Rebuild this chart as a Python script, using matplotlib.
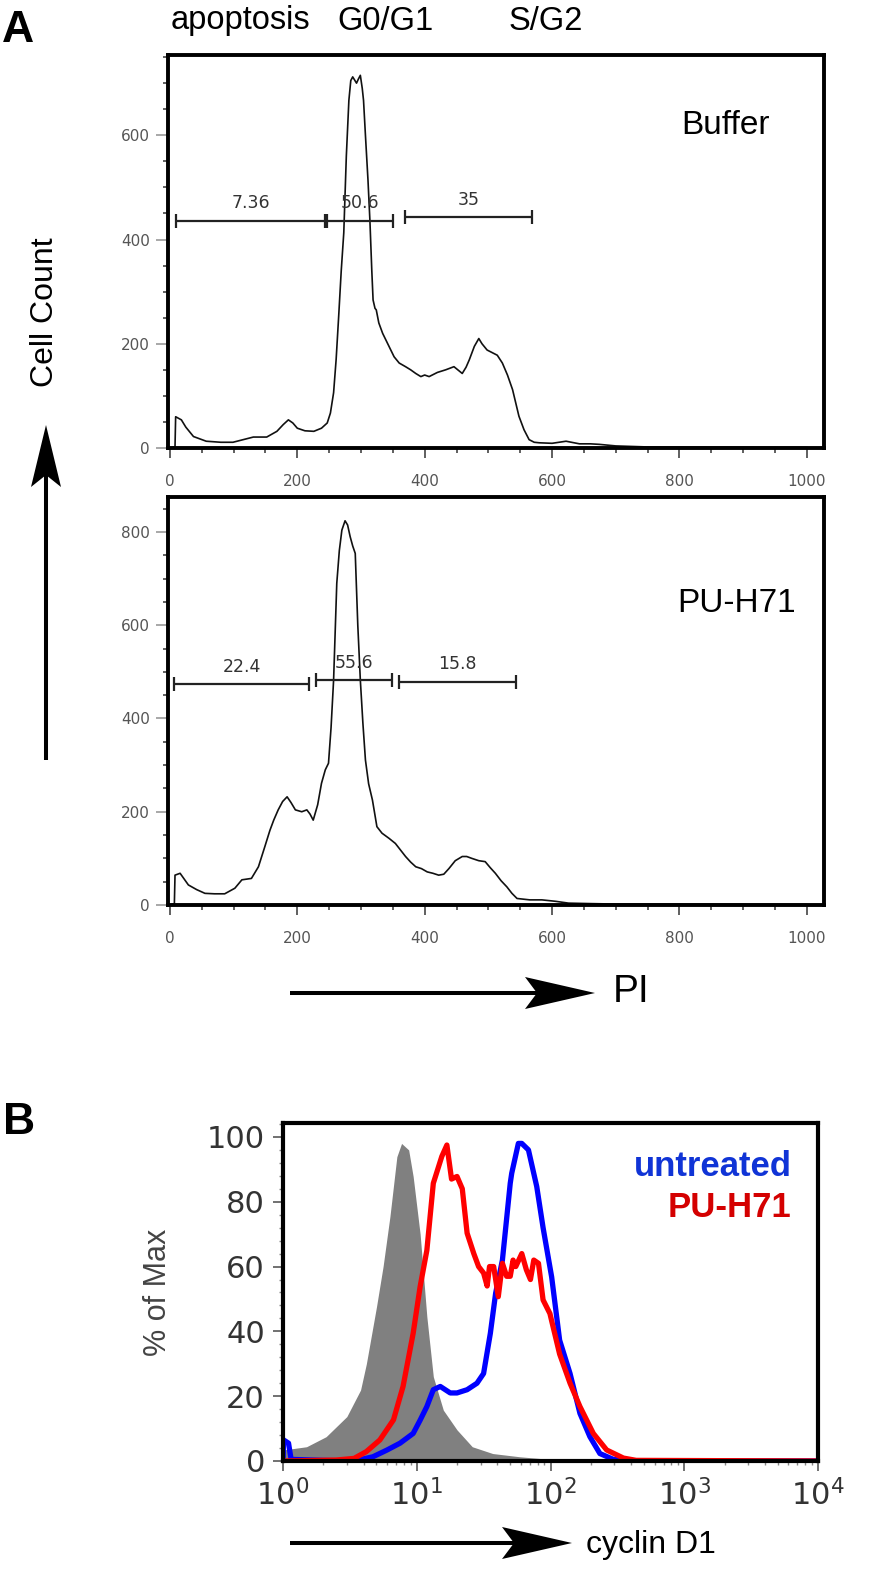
import matplotlib
matplotlib.use('Agg')
import matplotlib.pyplot as plt
from matplotlib.patches import Polygon
from matplotlib.lines import Line2D
from matplotlib.ticker import MultipleLocator, LogLocator, NullFormatter, FixedLocator

plt.rcParams['mathtext.default'] = 'regular'

W, H = 880, 1571
NARROW = ['Liberation Sans Narrow', 'Liberation Sans', 'DejaVu Sans']
ARIAL = ['Liberation Sans', 'DejaVu Sans']

# ---------------- data: panel A (PI histograms) ----------------
buffer_x = [0, 8, 9, 12, 18, 25, 37, 57, 80, 99, 115, 131, 152, 168, 178, 186, 193, 200, 212, 226,
            238, 247, 252, 257, 261, 265, 269, 273, 277, 281, 284, 287, 290, 293, 296, 299, 302, 304,
            307, 311, 314, 317, 319, 322, 324, 328, 334, 344, 352, 360, 370, 378, 386, 394, 400, 407,
            420, 433, 446, 452, 459, 465, 470, 478, 485, 490, 498, 506, 514, 522, 530, 538, 548, 556,
            564, 572, 580, 600, 622, 643, 660, 674, 700, 750, 1000]
buffer_y = [0, 2, 60, 58, 54, 40, 22, 13, 11, 11, 16, 21, 21, 32, 45, 54, 48, 38, 33, 32,
            38, 48, 67, 106, 170, 253, 340, 413, 560, 667, 705, 712, 706, 700, 708, 715, 690, 667,
            600, 514, 437, 340, 284, 268, 265, 240, 220, 195, 175, 163, 156, 150, 143, 137, 140, 137,
            145, 150, 156, 150, 143, 155, 169, 195, 210, 200, 188, 183, 178, 163, 140, 112, 61, 35,
            16, 11, 10, 9, 13, 8, 8, 7, 4, 2, 1]

puh_x = [0, 7, 8, 16, 29, 42, 55, 70, 86, 102, 113, 128, 139, 149, 157, 163, 170, 177, 184, 190,
         197, 207, 215, 220, 225, 232, 238, 244, 249, 253, 257, 262, 266, 270, 275, 279, 283, 287,
         291, 295, 299, 303, 307, 312, 318, 325, 333, 344, 354, 362, 370, 378, 386, 395, 404, 413,
         422, 430, 438, 448, 459, 466, 474, 485, 495, 503, 511, 520, 529, 537, 545, 565, 584, 605,
         626, 660, 700, 1000]
puh_y = [0, 3, 64, 68, 43, 33, 25, 24, 24, 36, 54, 57, 82, 125, 160, 182, 204, 222, 232, 220,
         204, 200, 204, 195, 182, 215, 261, 290, 304, 380, 482, 690, 760, 804, 824, 815, 790, 770,
         754, 600, 482, 390, 311, 260, 225, 168, 154, 143, 132, 118, 104, 92, 82, 78, 71, 68,
         64, 66, 78, 95, 104, 104, 100, 95, 93, 80, 68, 52, 39, 25, 14, 11, 11, 8,
         4, 3, 2, 1]

# gates: start, end, bar height, percentage label
buffer_gate_start = [10, 246, 369]
buffer_gate_end = [243, 351, 569]
buffer_gate_y = [436, 436, 443]
buffer_gate_pct = ['7.36', '50.6', '35']

puh_gate_start = [7, 230, 360]
puh_gate_end = [219, 348, 544]
puh_gate_y = [474, 482, 479]
puh_gate_pct = ['22.4', '55.6', '15.8']

phase_labels = ['apoptosis', 'G0/G1', 'S/G2']
a_xticks = [0, 200, 400, 600, 800, 1000]
buffer_yticks = [0, 200, 400, 600]
puh_yticks = [0, 200, 400, 600, 800]

# ---------------- data: panel B (cyclin D1 histograms) ----------------
iso_x = [1.0, 1.5, 2.1, 3.0, 3.8, 4.2, 5.0, 5.6, 6.3, 7.1, 7.7, 8.7, 9.4, 10.6, 11.9, 13.3,
         15.8, 20, 26, 37, 59, 100, 250, 10000]
iso_y = [3.4, 4.4, 7.5, 13.7, 21.9, 30, 47.6, 60, 75.4, 93.9, 98, 96, 87.8, 70, 44.5, 26,
         15.7, 9.6, 4.4, 2.3, 1.3, 0.5, 0, 0]

untreated_x = [1.0, 1.01, 1.1, 1.15, 2.0, 3.4, 4.7, 6.0, 7.5, 9.4, 10.6, 11.9, 13.3, 15.0, 17.8,
               20, 23.8, 28.2, 31.6, 35.5, 38.9, 43.7, 50, 51.3, 57.5, 61, 68.4, 78.9, 88, 102,
               117, 140, 166, 197, 234, 295, 400, 10000]
untreated_y = [0, 6.5, 5.5, 0.5, 0.2, 0, 1.3, 3.4, 5.5, 8.5, 12.6, 16.8, 22, 23, 21,
               21, 22, 24, 27, 39.4, 51.8, 62, 85.7, 88.8, 98, 98, 96, 84.7, 72, 56.8,
               37.3, 27, 14.7, 7.5, 2.3, 0.5, 0, 0]

puh71_x = [1.0, 2.5, 3.4, 4.2, 5.3, 6.7, 7.9, 9.4, 10.6, 11.9, 13.3, 15.4, 16.8, 18.2, 20, 21.9,
           23.8, 26.7, 29, 31.6, 33.6, 35, 37.6, 40.7, 43.7, 47, 50, 52.5, 55, 61, 66, 70.8,
           75, 81.3, 88, 99, 117, 140, 166, 209, 263, 351, 437, 10000]
puh71_y = [0, 0.3, 0.8, 2.9, 6.5, 12.7, 23, 39.4, 53.8, 65, 85.7, 94, 97.5, 87, 87.8, 84,
           70.3, 64, 60, 58, 54, 60, 60, 50.7, 61, 57, 57, 62, 60, 64, 59, 56,
           62, 61, 49.7, 45.5, 33, 24, 16.8, 8.5, 3.4, 0.9, 0.2, 0]

b_yticks = [0, 20, 40, 60, 80, 100]
b_xticks = [1, 10, 100, 1000, 10000]
b_xticklabels = [r'$10^{0}$', r'$10^{1}$', r'$10^{2}$', r'$10^{3}$', r'$10^{4}$']
legend_labels = ['untreated', 'PU-H71']

# ---------------- figure ----------------
fig = plt.figure(figsize=(W / 100, H / 100), dpi=100)
fig.patch.set_facecolor('white')


def rect(l, t, r, b):
    return [l / W, 1 - b / H, (r - l) / W, (b - t) / H]


def fpt(x, y):
    return (x / W, 1 - y / H)


def style_A(ax, yticks, ymax):
    ax.set_xlim(-3, 1027)
    ax.set_ylim(0, ymax)
    for s in ax.spines.values():
        s.set_linewidth(2.8)
    ax.xaxis.set_major_locator(FixedLocator(a_xticks))
    ax.xaxis.set_minor_locator(MultipleLocator(50))
    ax.yaxis.set_major_locator(FixedLocator(yticks))
    ax.yaxis.set_minor_locator(MultipleLocator(50))
    ax.tick_params(axis='x', which='major', length=7, width=1.2, color='#444', pad=12,
                   labelsize=11, labelcolor='#555')
    ax.tick_params(axis='x', which='minor', length=3.5, width=1.2, color='#444')
    ax.tick_params(axis='y', which='major', length=9, width=1.2, color='#999', pad=4,
                   labelsize=11, labelcolor='#555')
    ax.tick_params(axis='y', which='minor', length=3.5, width=1.2, color='#444')
    for lab in ax.get_xticklabels() + ax.get_yticklabels():
        lab.set_family('DejaVu Sans')


def draw_gates(ax, starts, ends, ys, pcts, cap):
    ax.hlines(ys, starts, ends, color='#222', lw=1.6)
    ax.vlines(starts, [y - cap for y in ys], [y + cap for y in ys], color='#222', lw=1.6)
    ax.vlines(ends, [y - cap for y in ys], [y + cap for y in ys], color='#222', lw=1.6)
    for s, e, y, p in zip(starts, ends, ys, pcts):
        ax.annotate(p, ((s + e) / 2, y), xytext=(0, 6), textcoords='offset points',
                    ha='center', va='bottom', fontsize=12.5, color='#333', family='DejaVu Sans')


# Panel A top (Buffer)
ax1 = fig.add_axes(rect(168, 55, 824, 448))
ax1.plot(buffer_x, buffer_y, color='#111', lw=1.2)
style_A(ax1, buffer_yticks, 754)
draw_gates(ax1, buffer_gate_start, buffer_gate_end, buffer_gate_y, buffer_gate_pct, 13)
ax1.text(872, 619, 'Buffer', ha='center', va='center', fontsize=24, family=ARIAL)

# Panel A bottom (PU-H71)
ax2 = fig.add_axes(rect(168, 497, 824, 905))
ax2.plot(puh_x, puh_y, color='#111', lw=1.2)
style_A(ax2, puh_yticks, 875)
draw_gates(ax2, puh_gate_start, puh_gate_end, puh_gate_y, puh_gate_pct, 15)
ax2.text(889, 647, 'PU-H71', ha='center', va='center', fontsize=24, family=ARIAL)

# Panel B
ax3 = fig.add_axes(rect(283, 1123, 818, 1461))
ax3.set_xscale('log')
ax3.fill_between(iso_x, iso_y, 0, color='#808080', lw=0)
ax3.plot(untreated_x, untreated_y, color='#0000ff', lw=3.8, solid_joinstyle='round')
ax3.plot(puh71_x, puh71_y, color='#ff0000', lw=3.8, solid_joinstyle='round')
ax3.set_xlim(1, 10000)
ax3.set_ylim(0, 104.3)
for s in ax3.spines.values():
    s.set_linewidth(3)
ax3.set_xticks(b_xticks)
ax3.set_xticklabels(b_xticklabels)
ax3.xaxis.set_minor_locator(LogLocator(base=10, subs=range(2, 10)))
ax3.xaxis.set_minor_formatter(NullFormatter())
ax3.set_yticks(b_yticks)
ax3.yaxis.set_minor_locator(MultipleLocator(4))
ax3.tick_params(axis='both', which='major', length=7, width=1.3, color='#666',
                labelsize=22, labelcolor='#333', pad=6)
ax3.tick_params(axis='both', which='minor', length=3, width=1.0, color='#888')
for lab in ax3.get_xticklabels() + ax3.get_yticklabels():
    lab.set_family('DejaVu Sans')
ax3.set_ylabel('% of Max', fontsize=22, color='#444', family=ARIAL, labelpad=24)
ax3.text(0.951, 0.870, legend_labels[0], transform=ax3.transAxes, ha='right', va='center',
         fontsize=25, fontweight='bold', color='#1034d6', family=NARROW)
ax3.text(0.951, 0.751, legend_labels[1], transform=ax3.transAxes, ha='right', va='center',
         fontsize=25, fontweight='bold', color='#d40000', family=NARROW)

# Figure-level annotations
fig.text(*fpt(18, 30), 'A', ha='center', va='center', fontsize=32, fontweight='bold', family=ARIAL)
fig.text(*fpt(19, 1122), 'B', ha='center', va='center', fontsize=32, fontweight='bold', family=ARIAL)
for lab, cx in zip(phase_labels, [240, 385, 546]):
    fig.text(*fpt(cx, 21), lab, ha='center', va='center', fontsize=23.5, family=NARROW)

fig.text(*fpt(45, 312), 'Cell Count', rotation=90, ha='center', va='center', fontsize=23, family=NARROW)
fig.text(*fpt(613, 992), 'PI', ha='left', va='center', fontsize=28, family=NARROW)
fig.text(*fpt(586, 1545), 'cyclin D1', ha='left', va='center', fontsize=23, family=NARROW)


def arrow(p0, tip, length=70, half=16, notch=12):
    """Line plus concave ("stealth") arrowhead, given in top-origin pixel coordinates."""
    x0, y0 = p0
    xt, yt = tip
    dx, dy = xt - x0, yt - y0
    n = (dx * dx + dy * dy) ** 0.5
    ux, uy = dx / n, dy / n
    px, py = -uy, ux
    bx, by = xt - ux * length, yt - uy * length
    nx, ny = bx + ux * notch, by + uy * notch
    fig.add_artist(Line2D([fpt(x0, y0)[0], fpt(nx, ny)[0]], [fpt(x0, y0)[1], fpt(nx, ny)[1]],
                          transform=fig.transFigure, color='black', lw=2.9, solid_capstyle='butt'))
    pts = [fpt(xt, yt), fpt(bx + px * half, by + py * half), fpt(nx, ny),
           fpt(bx - px * half, by - py * half)]
    fig.add_artist(Polygon(pts, closed=True, transform=fig.transFigure, color='black', lw=0))


arrow((46, 760), (46, 425), length=62, half=15)
arrow((290, 993), (595, 993))
arrow((290, 1543), (572, 1543))

fig.savefig('out.png', dpi=100, facecolor='white')
